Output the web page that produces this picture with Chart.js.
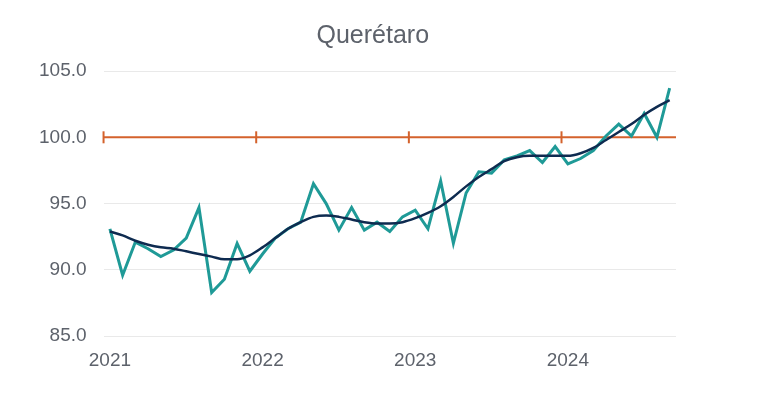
<!DOCTYPE html>
<html lang="es">
<head>
<meta charset="UTF-8">
<title>Querétaro</title>
<style>
  html, body { margin: 0; padding: 0; background: #ffffff; }
  #wrap { width: 768px; height: 401px; position: relative; }
</style>
</head>
<body>
<div id="wrap"><canvas id="chart"></canvas></div>
<script src="https://cdn.jsdelivr.net/npm/chart.js@4/dist/chart.umd.min.js"></script>
<script>
// monthly index, Jan 2021 .. Sep 2024 (x = month number from Jan 2021)
const titleText = 'Querétaro';
const yearLabels = ['2021', '2022', '2023', '2024'];
const yearTickPos = [0, 12, 24, 36];

const indexActual = [
  93.1, 89.6, 92.1, 91.6, 91.0, 91.5, 92.4, 94.7, 88.3, 89.3, 92.0, 89.9,
  91.2, 92.4, 93.1, 93.6, 96.5, 95.0, 93.0, 94.7, 93.0, 93.6, 92.9, 94.0,
  94.5, 93.1, 96.7, 92.0, 95.8, 97.4, 97.3, 98.3, 98.6, 99.0, 98.1, 99.3,
  98.0, 98.4, 99.0, 100.1, 101.0, 100.1, 101.8, 100.0, 103.7
];
const indexTrend = [
  92.9, 92.6, 92.2, 91.9, 91.7, 91.6, 91.4, 91.2, 91.0, 90.8, 90.8, 91.1,
  91.7, 92.4, 93.1, 93.6, 94.0, 94.1, 94.0, 93.8, 93.6, 93.5, 93.5, 93.6,
  93.9, 94.3, 94.8, 95.5, 96.3, 97.0, 97.6, 98.2, 98.5, 98.6, 98.6, 98.6,
  98.6, 98.8, 99.2, 99.8, 100.4, 101.0, 101.7, 102.3, 102.8
];
// base line (=100) with marks at the year boundaries
const baseX = [-0.5, 11.5, 23.5, 35.5, 44.5];
const baseY = [100, 100, 100, 100, 100];
const baseMark = [6, 6, 6, 6, 0];

const textColor = '#5d626b';
const fontFamily = '"Liberation Sans", Arial, sans-serif';

const toPoints = (arr) => arr.map((v, i) => ({ x: i, y: v }));

const titlePlugin = {
  id: 'placedTitle',
  afterDraw(chart) {
    const ctx = chart.ctx;
    const area = chart.chartArea;
    ctx.save();
    ctx.font = '25px ' + fontFamily;
    ctx.fillStyle = textColor;
    ctx.textAlign = 'center';
    ctx.textBaseline = 'alphabetic';
    ctx.fillText(titleText, (area.left + area.right) / 2 - 17, 43);
    ctx.restore();
  }
};

const ctx = document.getElementById('chart').getContext('2d');
new Chart(ctx, {
  type: 'line',
  data: {
    datasets: [
      {
        label: 'Base 100',
        data: baseX.map((x, i) => ({ x: x, y: baseY[i] })),
        borderColor: '#d4622c',
        borderWidth: 2,
        pointStyle: 'line',
        rotation: 90,
        pointRadius: baseMark,
        pointBorderColor: '#d4622c',
        pointBorderWidth: 2,
        clip: false,
        order: 3
      },
      {
        label: 'Índice',
        data: toPoints(indexActual),
        borderColor: '#1f9a97',
        borderWidth: 3,
        pointRadius: 0,
        tension: 0,
        order: 2
      },
      {
        label: 'Tendencia',
        data: toPoints(indexTrend),
        borderColor: '#0e2b50',
        borderWidth: 2.5,
        pointRadius: 0,
        cubicInterpolationMode: 'monotone',
        order: 1
      }
    ]
  },
  options: {
    responsive: true,
    maintainAspectRatio: false,
    animation: false,
    layout: { padding: { top: 71, right: 92, bottom: 16, left: 22 } },
    plugins: {
      legend: { display: false },
      title: { display: false },
      tooltip: { enabled: false }
    },
    scales: {
      x: {
        type: 'linear',
        min: -0.5,
        max: 44.5,
        grid: { display: false, drawTicks: false },
        border: { display: false },
        afterBuildTicks: (scale) => {
          scale.ticks = yearTickPos.map(v => ({ value: v }));
        },
        ticks: {
          padding: 13,
          color: textColor,
          font: { size: 19, family: fontFamily },
          maxRotation: 0,
          autoSkip: false,
          callback: (value) => yearLabels[yearTickPos.indexOf(value)]
        }
      },
      y: {
        min: 85,
        max: 105,
        grid: { color: '#e9e9e9', lineWidth: 1, drawTicks: false },
        border: { display: false },
        ticks: {
          stepSize: 5,
          padding: 17,
          color: textColor,
          font: { size: 19, family: fontFamily },
          callback: (value) => value.toFixed(1)
        }
      }
    }
  },
  plugins: [titlePlugin]
});
</script>
</body>
</html>
